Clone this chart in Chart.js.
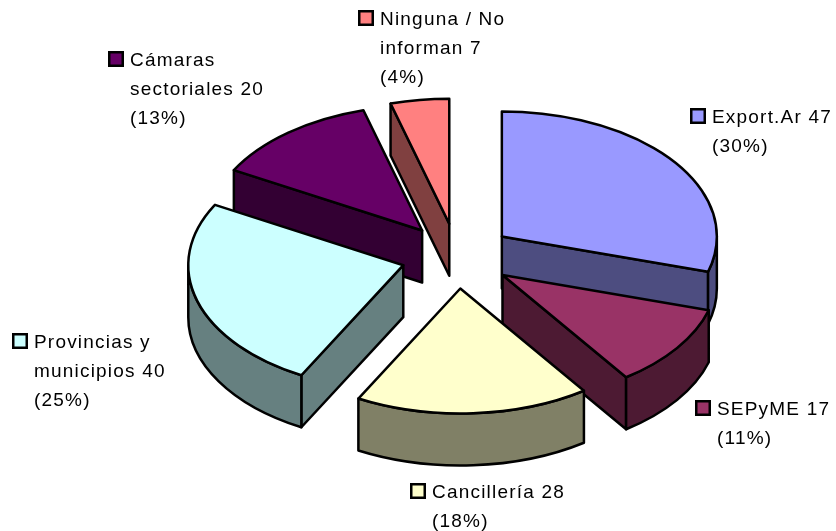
<!DOCTYPE html>
<html><head><meta charset="utf-8">
<script src="https://cdn.jsdelivr.net/npm/chart.js@4"></script>
<style>html,body{margin:0;padding:0;background:#fff}canvas{display:block}</style>
</head><body>
<canvas id="c" width="836" height="531"></canvas>
<script>
const categories = ['Export.Ar', 'SEPyME', 'Cancillería', 'Provincias y municipios', 'Cámaras sectoriales', 'Ninguna / No informan'];
const values = [47, 17, 28, 40, 20, 7];
const topColors = ['#9999FF', '#993366', '#FFFFCC', '#CCFFFF', '#660066', '#FF8080'];
const sideColors = ['#4D4D80', '#4D1A33', '#808066', '#668080', '#330033', '#804040'];
// label layout: [square left x, first text baseline y]
const labelAnchors = [[690, 123], [695, 415], [410, 498], [12, 348], [108, 66], [358, 25]];

const TILT = 125 / 215;   // vertical squash of the pie
const DEPTH = 52;         // thickness of the 3D pie
const EXPLODE = 56;       // slice explosion

function wrap(ctx, text, maxW) {
  const words = text.split(' ');
  const lines = [];
  let cur = '';
  for (const w of words) {
    const t = cur ? cur + ' ' + w : w;
    if (cur && ctx.measureText(t).width > maxW) { lines.push(cur); cur = w; }
    else cur = t;
  }
  if (cur) lines.push(cur);
  return lines;
}

const pie3d = {
  id: 'pie3d',
  beforeDatasetsDraw(chart) {
    const ctx = chart.ctx;
    const meta = chart.getDatasetMeta(0);
    const arcs = meta.data.map((el, i) => ({ el, i }));
    const depthKey = o => Math.sin((o.el.startAngle + o.el.endAngle) / 2);
    arcs.sort((a, b) => depthKey(a) - depthKey(b));
    ctx.save();
    ctx.lineWidth = 2.5;
    ctx.lineJoin = 'round';
    ctx.strokeStyle = '#000';
    for (const { el, i } of arcs) {
      const s = el.startAngle, e = el.endAngle, r = el.outerRadius;
      const off = el.options.offset || 0;
      const mid = (s + e) / 2;
      const ox = el.x + Math.cos(mid) * off;
      const oy = el.y + Math.sin(mid) * off * TILT;
      const ry = r * TILT;
      const P = (a, d) => [ox + r * Math.cos(a), oy + ry * Math.sin(a) + d];
      const fs = (fill, path) => {
        ctx.beginPath(); path(); ctx.closePath();
        ctx.fillStyle = fill; ctx.fill(); ctx.stroke();
      };
      const side = sideColors[i];
      const top = el.options.backgroundColor;
      const radial = a => fs(side, () => {
        ctx.moveTo(ox, oy); ctx.lineTo(...P(a, 0)); ctx.lineTo(...P(a, DEPTH)); ctx.lineTo(ox, oy + DEPTH);
      });
      if (Math.cos(s) < -1e-6) radial(s);
      if (Math.cos(e) > 1e-6) radial(e);
      const a1 = Math.max(s, 0), a2 = Math.min(e, Math.PI);
      if (a2 > a1) fs(side, () => {
        ctx.ellipse(ox, oy, r, ry, 0, a1, a2);
        ctx.lineTo(...P(a2, DEPTH));
        ctx.ellipse(ox, oy + DEPTH, r, ry, 0, a2, a1, true);
      });
      fs(top, () => {
        ctx.moveTo(ox, oy); ctx.lineTo(...P(s, 0)); ctx.ellipse(ox, oy, r, ry, 0, s, e);
      });
    }
    ctx.restore();
    return false;
  },
  afterDraw(chart) {
    const ctx = chart.ctx;
    const total = values.reduce((a, b) => a + b, 0);
    ctx.save();
    ctx.font = '19px "Liberation Sans", Arial, sans-serif';
    ctx.letterSpacing = '1.2px';
    ctx.textBaseline = 'alphabetic';
    categories.forEach((name, i) => {
      const [lx, ly] = labelAnchors[i];
      const lines = wrap(ctx, name + ' ' + values[i], 165);
      lines.push('(' + Math.round(values[i] / total * 100) + '%)');
      ctx.fillStyle = topColors[i];
      ctx.strokeStyle = '#000';
      ctx.lineWidth = 2.5;
      ctx.fillRect(lx + 1.25, ly - 13.75, 13.5, 13.5);
      ctx.strokeRect(lx + 1.25, ly - 13.75, 13.5, 13.5);
      ctx.fillStyle = '#000';
      lines.forEach((t, j) => ctx.fillText(t, lx + 22, ly + j * 29));
    });
    ctx.restore();
  }
};

new Chart(document.getElementById('c'), {
  type: 'pie',
  data: {
    labels: categories,
    datasets: [{
      data: values,
      backgroundColor: topColors,
      borderColor: '#000',
      borderWidth: 2.5,
      offset: EXPLODE,
      clip: false
    }]
  },
  options: {
    responsive: false,
    animation: false,
    devicePixelRatio: 1,
    radius: 215,
    events: [],
    layout: { padding: { left: 78, right: 0, top: 0, bottom: 19 } },
    plugins: { legend: { display: false }, tooltip: { enabled: false } }
  },
  plugins: [pie3d]
});
</script>
</body></html>
